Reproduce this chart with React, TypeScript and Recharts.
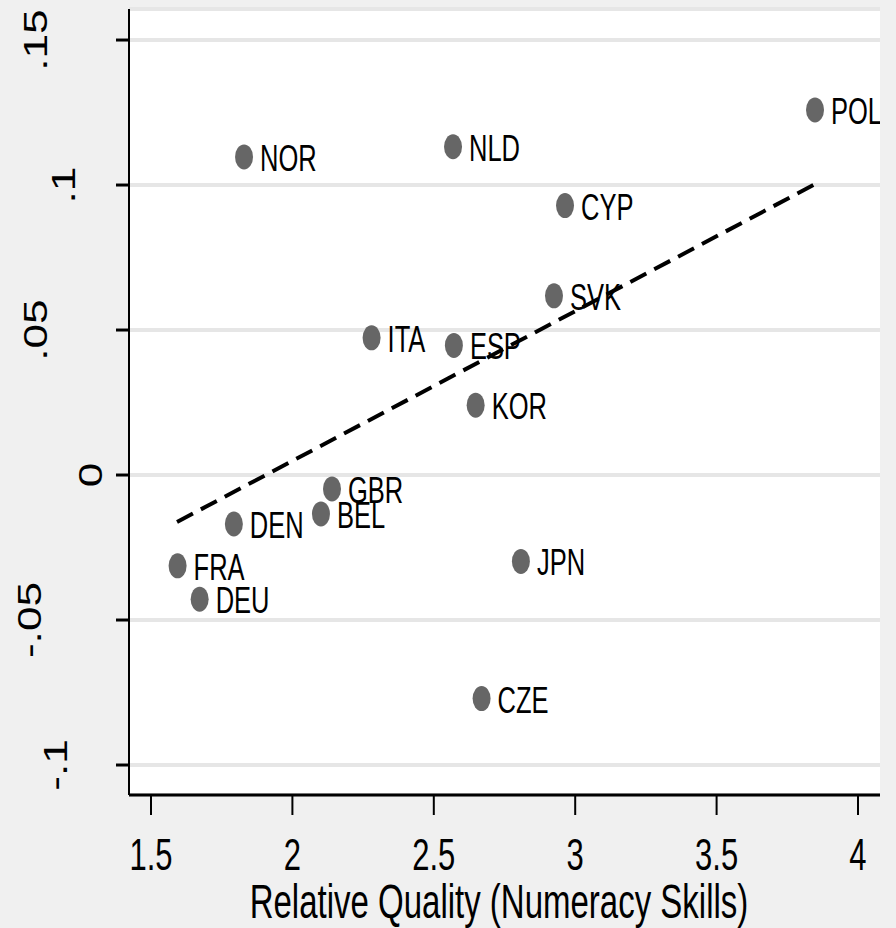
import React from 'react';
import {
    ScatterChart,
    Scatter,
    XAxis,
    YAxis,
    CartesianGrid,
    ReferenceLine,
    Label,
} from 'recharts';

// country codes and their (relative quality, wage effect) values
const countries = ['POL', 'NOR', 'NLD', 'CYP', 'SVK', 'ITA', 'ESP', 'KOR', 'GBR', 'BEL', 'DEN', 'FRA', 'DEU', 'JPN', 'CZE'];
const quality = [3.848, 1.829, 2.568, 2.964, 2.925, 2.280, 2.571, 2.648, 2.140, 2.101, 1.793, 1.594, 1.672, 2.808, 2.669];
const effect = [0.1259, 0.1097, 0.1132, 0.0929, 0.0618, 0.0473, 0.0447, 0.0241, -0.0048, -0.0134, -0.0169, -0.0313, -0.0428, -0.0298, -0.0771];

// fitted line end points
const fitX = [1.592, 3.848];
const fitY = [-0.0162, 0.1003];

const xTicks = [1.5, 2, 2.5, 3, 3.5, 4];
const yTicks = [-0.1, -0.05, 0, 0.05, 0.1, 0.15];

const points = countries.map((name, i) => ({ name, x: quality[i], y: effect[i] }));

const FONT = '"Liberation Sans", Arial, sans-serif';
const STRETCH = 1.43;

const fmtY = (v: number) => (v === 0 ? '0' : String(v).replace('0.', '.'));

// the rotated labels in the original sit at uneven distances from the axis
const yLabelBase: Record<string, number> = {
    '.15': 47,
    '.1': 75,
    '.05': 47,
    '0': 102,
    '-.05': 41,
    '-.1': 67,
};

const YTick = ({ y, payload }: any) => {
    const label = fmtY(payload.value);
    const bx = yLabelBase[label] ?? 60;
    return (
        <text
            transform={`translate(${bx},${y}) rotate(-90) scale(1.3,1)`}
            textAnchor="middle"
            fontSize={34}
            fontFamily={FONT}
            fill="#000"
        >
            {label}
        </text>
    );
};

const XTick = ({ x, payload }: any) => (
    <text
        transform={`translate(${x},870) scale(1,${STRETCH})`}
        textAnchor="middle"
        fontSize={31}
        fontFamily={FONT}
        fill="#000"
    >
        {String(payload.value)}
    </text>
);

const Dot = ({ cx, cy, payload }: any) => (
    <g>
        <ellipse cx={cx} cy={cy} rx={9} ry={12.5} fill="#666666" />
        <text
            transform={`translate(${cx + 16},${cy + 14}) scale(1,1.42)`}
            fontSize={25.5}
            fontFamily={FONT}
            fill="#000"
        >
            {payload.name}
        </text>
    </g>
);

export default function App() {
    return (
        <div style={{ position: 'absolute', left: 0, top: 0, width: 896, height: 928, background: '#f0f0f0' }}>
            <ScatterChart
                width={896}
                height={928}
                margin={{ top: 9, right: 16, left: 0, bottom: 0 }}
            >
                <CartesianGrid vertical={false} fill="#ffffff" stroke="#e6e6e6" strokeWidth={4} />
                <XAxis
                    type="number"
                    dataKey="x"
                    domain={[1.4222, 4.0778]}
                    ticks={xTicks}
                    height={133}
                    tickSize={20}
                    tickLine={{ stroke: '#000', strokeWidth: 2 }}
                    axisLine={{ stroke: '#000', strokeWidth: 3 }}
                    tick={<XTick />}
                    allowDataOverflow
                >
                    <Label
                        content={() => (
                            <text
                                transform={`translate(499,918) scale(1,${STRETCH})`}
                                textAnchor="middle"
                                fontSize={33}
                                fontFamily={FONT}
                                fill="#000"
                            >
                                Relative Quality (Numeracy Skills)
                            </text>
                        )}
                    />
                </XAxis>
                <YAxis
                    type="number"
                    dataKey="y"
                    domain={[-0.11034, 0.1607]}
                    ticks={yTicks}
                    width={129}
                    tickSize={13}
                    tickLine={{ stroke: '#000', strokeWidth: 3 }}
                    axisLine={{ stroke: '#000', strokeWidth: 2 }}
                    tick={<YTick />}
                    allowDataOverflow
                />
                <Scatter data={points} shape={<Dot />} isAnimationActive={false} />
                <ReferenceLine
                    segment={[
                        { x: fitX[0], y: fitY[0] },
                        { x: fitX[1], y: fitY[1] },
                    ]}
                    stroke="#000"
                    strokeWidth={4}
                    strokeDasharray="18 9"
                    ifOverflow="visible"
                />
            </ScatterChart>
        </div>
    );
}
